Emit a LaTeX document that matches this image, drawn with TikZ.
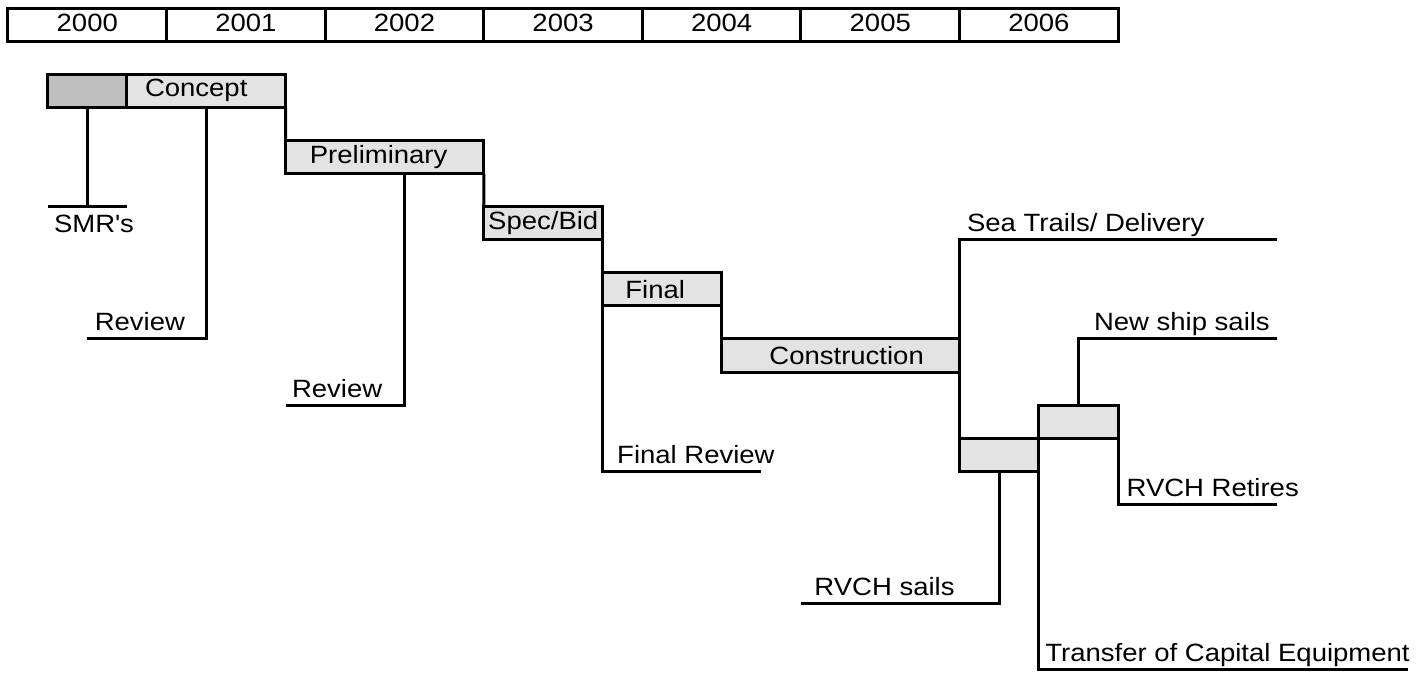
\documentclass[tikz,border=0pt]{standalone}
\usepackage{fontspec}
\setmainfont[FakeStretch=1.1]{Liberation Sans}
\usetikzlibrary{fit}

\definecolor{prefill}{gray}{0.75}
\definecolor{phasefill}{gray}{0.89}

\begin{document}
\begin{tikzpicture}[x=79.3pt, y=-16.55pt, line width=1.5pt,
        font=\fontsize{12.5}{15}\selectfont,
        yearbox/.style={draw, inner sep=0pt, outer sep=0pt},
        phase/.style={draw, fill=phasefill, inner sep=0pt, outer sep=0pt},
        lbl/.style={anchor=base west, inner sep=0pt, yshift=4pt}]
        \useasboundingbox (-0.0504,-0.2417) rectangle (8.878,20.12);

        % years
        \foreach \i in {0,...,6} {
            \pgfmathtruncatemacro{\yr}{2000+\i}
            \node[yearbox, fit={(\i,0) (\i+1,1)}] (y\i) {};
            \node[yshift=1pt] (yt\i) at (y\i.center) {\yr};
        }

        % phases
        \node[phase, fill=prefill, fit={(0.25,2) (0.75,3)}] (smrbox) {};
        \node[phase, fit={(0.75,2) (1.75,3)}] (concept) {};
        \node[phase, fit={(1.75,4) (3,5)}] (prelim) {};
        \node[phase, fit={(3,6) (3.75,7)}] (spec) {};
        \node[phase, fit={(3.75,8) (4.5,9)}] (final) {};
        \node[phase, fit={(4.5,10) (6,11)}] (constr) {};
        \node[phase, fit={(6.5,12) (7,13)}] (newbox) {};
        \node[phase, fit={(6,13) (6.5,14)}] (oldbox) {};

        \node[xshift=-5pt] (concept-t) at (concept.center) {Concept};
        \node[xshift=-3pt] (prelim-t) at (prelim.center) {Preliminary};
        \node (spec-t) at (spec.center) {Spec/Bid};
        \node[xshift=-3.5pt] (final-t) at (final.center) {Final};
        \node[xshift=3pt] (constr-t) at (constr.center) {Construction};

        % milestones
        \coordinate (smr-l) at (0.25,6);
        \coordinate (smr-r) at (0.75,6);
        \coordinate (rev1) at (0.5,10);
        \coordinate (rev2) at (1.75,12);
        \coordinate (rev2-r) at (2.5,12);
        \coordinate (frev) at (4.75,14);
        \coordinate (sea) at (8,7);
        \coordinate (newship) at (8,10);
        \coordinate (retire) at (8,15);
        \coordinate (sails) at (5,18);
        \coordinate (transfer) at (8.827,20);

        \draw (smrbox.south) -- (smrbox.south |- smr-l);
        \draw (smr-l) -- (smr-r);
        \node[anchor=north west, inner sep=0pt, xshift=2.5pt, yshift=-3.5pt] (smr-t) at (smr-l) {SMR\textquotesingle s};

        \draw (concept.south) |- (rev1);
        \node[lbl, xshift=3pt] (rev1-t) at (rev1) {Review};

        \draw (concept.south east) -- (prelim.north west);
        \draw (prelim.south -| rev2-r) |- (rev2);
        \node[lbl, xshift=2.5pt] (rev2-t) at (rev2) {Review};

        \draw (prelim.south east) -- (spec.north west);
        \draw (spec.south east) |- (frev);
        \node[lbl, xshift=6.5pt] (frev-t) at (spec.south east |- frev) {Final Review};

        \draw (final.south east) -- (constr.north west);
        \draw (sea) -| (oldbox.south west);
        \node[lbl, xshift=3pt] (sea-t) at (oldbox.south west |- sea) {Sea Trails/ Delivery};

        \draw (newbox.north) |- (newship);
        \node[lbl, xshift=7pt] (newship-t) at (newbox.north |- newship) {New ship sails};

        \draw (newbox.north east) |- (retire);
        \node[lbl, xshift=3.5pt] (retire-t) at (newbox.north east |- retire) {RVCH Retires};

        \draw (oldbox.south) |- (sails);
        \node[lbl, xshift=6pt] (sails-t) at (sails) {RVCH sails};

        \draw (newbox.north west) |- (transfer);
        \node[lbl, xshift=2.5pt] (transfer-t) at (newbox.north west |- transfer) {Transfer of Capital Equipment};
\end{tikzpicture}
\end{document}
